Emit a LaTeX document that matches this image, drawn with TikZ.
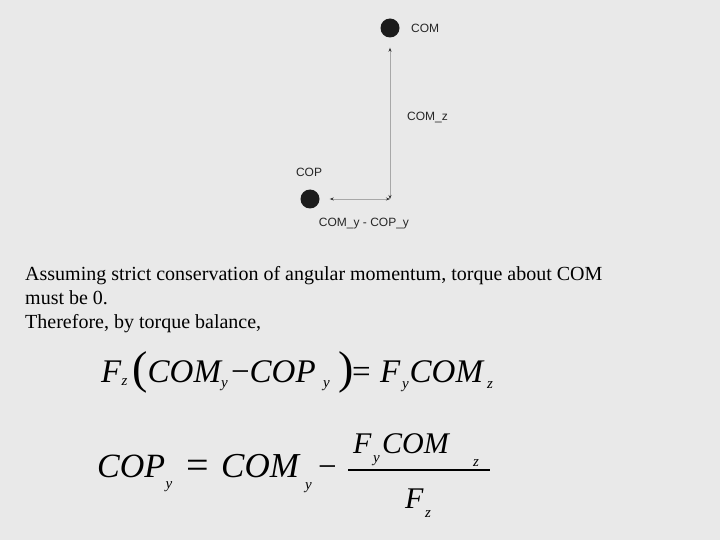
\documentclass[tikz,border=0pt]{standalone}
\usepackage{fontspec}
\setmainfont{Liberation Serif}
\newfontfamily\arialfont{Liberation Sans}
\usetikzlibrary{arrows.meta}
\definecolor{bg}{HTML}{E9E9E9}
\definecolor{dotc}{HTML}{1C1C1C}
\definecolor{linec}{HTML}{A8A8A8}
\tikzset{
  dot/.style={circle,fill=dotc,minimum size=19pt,inner sep=0pt},
  lbl/.style={font=\arialfont\fontsize{12}{14}\selectfont,inner sep=0pt,text=black!85},
  body/.style={font=\fontsize{20}{24}\selectfont,anchor=base west,inner sep=0pt},
  eqbig/.style={font=\itshape\fontsize{33}{36}\selectfont,anchor=base west,inner sep=0pt},
  eqbigger/.style={font=\itshape\fontsize{35}{38}\selectfont,anchor=base west,inner sep=0pt},
  eqmid/.style={font=\itshape\fontsize{30}{32}\selectfont,anchor=base west,inner sep=0pt},
  eqsub/.style={font=\itshape\fontsize{15}{16}\selectfont,anchor=base west,inner sep=0pt},
  equp/.style={font=\fontsize{33}{36}\selectfont,anchor=base west,inner sep=0pt},
  paren/.style={font=\fontsize{46}{48}\selectfont,anchor=base west,inner sep=0pt},
  arr/.style={draw=linec,line width=0.8pt,{Stealth[length=4pt,width=3pt,color=black!80]}-{Stealth[length=4pt,width=3pt,color=black!80]}}
}
\begin{document}
\begin{tikzpicture}[x=1pt,y=-1pt]
\fill[bg] (0,0) rectangle (720,540);
\useasboundingbox (0,0) rectangle (720,540);
% diagram
\node[dot] (com) at (390,28) {};
\node[dot] (cop) at (310,199) {};
\coordinate (corner) at (390,199);
\node[lbl,anchor=west] (comlbl) at (411,28) {COM};
\node[lbl] (coplbl) at (309,172) {COP};
\node[lbl,anchor=west] (comz) at (407,118) {COM\_z};
\node[lbl] (diff) at (364,224) {COM\_y - COP\_y};
\draw[arr,shorten >=10pt] (corner) -- (com);
\draw[arr,shorten >=10pt] (corner) -- (cop);
% text
\node[body] (t1) at (25,280) {Assuming strict conservation of angular momentum, torque about COM};
\node[body] (t2) at (25,304) {must be 0.};
\node[body] (t3) at (25,328) {Therefore, by torque balance,};
% equation 1
\node[eqbig] (e1a) at (101,382) {F};
\node[eqsub] (e1b) at (121.5,385) {z};
\node[paren] (e1c) at (132,383) {(};
\node[eqbig] (e1d) at (147.5,382) {COM};
\node[eqsub] (e1e) at (221,387) {y};
\node[equp] (e1f) at (231,382) {−};
\node[eqbig] (e1g) at (249.5,382) {COP};
\node[eqsub] (e1h) at (323,387) {y};
\node[paren] (e1i) at (338,383) {)};
\node[equp] (e1j) at (352,382) {=};
\node[eqbig] (e1k) at (380,382) {F};
\node[eqsub] (e1l) at (402,388) {y};
\node[eqbig] (e1m) at (409.5,382) {COM};
\node[eqsub] (e1n) at (487,388) {z};
% equation 2
\node[eqbigger,font=\itshape\fontsize{34}{38}\selectfont] (e2a) at (97,477) {COP};
\node[eqsub] (e2b) at (165.5,488) {y};
\node[equp,font=\fontsize{40}{42}\selectfont] (e2c) at (186,478) {=};
\node[eqbigger] (e2d) at (221,477) {COM};
\node[eqsub] (e2e) at (305,489) {y};
\node[equp] (e2f) at (318,477) {−};
\coordinate (fl) at (348,470);
\coordinate (fr) at (490,470);
\draw[line width=1.4pt] (fl) -- (fr);
\node[eqmid] (e2g) at (353,453) {F};
\node[eqsub] (e2h) at (373,462) {y};
\node[eqmid] (e2i) at (382,453) {COM};
\node[eqsub] (e2j) at (473,466) {z};
\node[eqmid] (e2k) at (405,508) {F};
\node[eqsub] (e2l) at (425,517) {z};
\end{tikzpicture}
\end{document}
